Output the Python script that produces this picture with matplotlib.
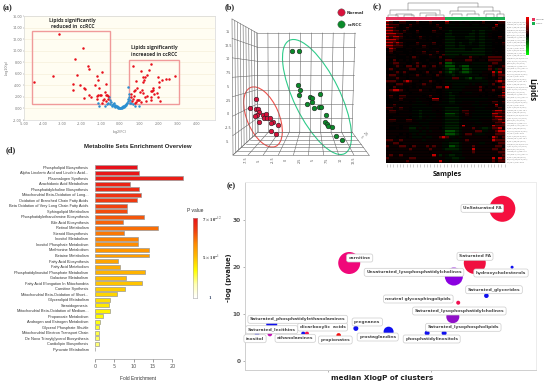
"""Five panel lipidomics figure: volcano, 3D PCA, heatmap, enrichment, clusters."""
import matplotlib

matplotlib.use("Agg")
import matplotlib.pyplot as plt
import numpy as np
from matplotlib.colors import LinearSegmentedColormap
from matplotlib.patches import Ellipse, Rectangle

W, H = 550, 385

# (a) volcano
red_x = [-3.16, -1.93, -2.34, -2.24, -3.47, -4.46, -2.47, -2.1, -2.47, -1.88, -1.84, -1.68,
         -1.6, -0.95, -1.18, -1.13, -0.73, -1.3, -1.1, -1.6, -1.5, -1.86, -1.18, -1.13,
         -1.04, -0.97, -0.8, -0.73, -0.66, -0.83, -0.73, -0.61, -0.95, -1.2, -0.9, -0.6,
         0.66, 1.6, 1.53, 1.11, 1.39, 1.32, 1.18, 1.25, 1.18, 0.85, 1.96, 2.05, 2.17,
         2.38, 2.57, 2.85, 2.05, 1.7, 1.6, 1.67, 1.74, 1.13, 1.04, 1.94, 2.0, 2.1, 1.6,
         0.75, 0.8, 0.9, 0.72, 0.6, 0.65, 0.85, 0.95, 1.0, 1.3, 1.4, 1.2, 0.55, 0.7, 0.88,
         0.78, 1.1, 1.35, 1.62, 1.78]
red_y = [12.97, 10.4, 8.5, 5.76, 5.6, 4.6, 4.15, 4.1, 3.17, 3.46, 3.3, 7.4,
         6.9, 6.3, 5.6, 4.9, 4.3, 4.0, 3.6, 2.4, 2.0, 1.84, 1.6, 2.3,
         2.4, 2.3, 2.77, 2.4, 2.3, 1.7, 1.3, 1.55, 0.9, 2.2, 1.4, 2.1,
         7.3, 7.7, 6.7, 6.45, 5.76, 5.36, 5.4, 5.0, 4.5, 4.8, 5.4, 4.5, 4.9,
         5.13, 5.13, 5.6, 3.75, 3.6, 3.05, 3.05, 3.15, 3.2, 2.9, 2.6, 2.0, 1.33, 1.44,
         3.0, 3.2, 3.5, 2.2, 1.9, 1.3, 1.2, 1.4, 1.5, 2.0, 2.2, 2.6, 2.5, 1.7, 1.5,
         1.0, 1.1, 1.3, 2.0, 2.5]
blue_x = [-1.15, -1.1, -0.8, -0.7, -0.6, -0.5, -0.55, -0.5, -0.45, -0.42, -0.4, -0.35, -0.3,
          -0.3, -0.28, -0.25, -0.2, -0.18, -0.15, -0.12, -0.1, -0.08, -0.05, 0, 0.02, 0.05,
          0.08, 0.1, 0.12, 0.15, 0.18, 0.2, 0.22, 0.25, 0.28, 0.3, 0.32, 0.35, 0.38, 0.4,
          0.42, 0.45, 0.46, 0.42, 0.5, 0.55, 0.7, 0.8, 0.98, 0.52]
blue_y = [0.9, 0.5, 0.4, 0.7, 1.0, 1.5, 1.9, 0.8, 1.1, 0.6, 0.4, 0.7, 0.9,
          0.5, 0.3, 0.6, 0.4, 0.2, 0.5, 0.25, 0.1, 0.3, 0.1, 0.05, 0, 0.1,
          0.2, 0.1, 0.25, 0.3, 0.4, 0.25, 0.5, 0.4, 0.6, 0.7, 0.55, 0.9, 1.0, 1.3,
          1.6, 2.0, 2.5, 3.7, 1.0, 0.9, 0.7, 0.5, 0.4, 1.5]
volcano_ticks_x = [-5, -4, -3, -2, -1, 0, 1, 2, 3, 4, 5]
volcano_ticks_y = [-2, 0, 2, 4, 6, 8, 10, 12, 14, 16]

# (b) 3D score plot, positions as projected on the page
normal_x = [255.7, 250, 256, 258.3, 259.3, 257.3, 255, 262.7, 266.3, 263.7, 267, 270.3, 273,
            271, 258.7, 278, 271, 276]
normal_y = [99.3, 107.7, 108.7, 108.7, 111.7, 115, 116, 115.3, 114.3, 118, 117.7, 117.7, 122,
            123.3, 122.3, 125, 131, 134.3]
ccrcc_x = [291.7, 298.7, 298, 300.3, 298.7, 310, 312.3, 311.7, 307.3, 320, 314.3, 318.7, 320.7,
           326, 325, 327, 328, 332.3, 335.7, 342]
ccrcc_y = [51.3, 50.7, 85, 90, 95, 96.7, 98.3, 101.7, 104, 94, 107.7, 106.7, 106.7,
           114.7, 122, 124, 126, 127, 136, 140]
score_ticks_y = ["15", "12.5", "10", "7.5", "5", "2.5", "0", "-2.5", "-5"]
score_ticks_x = ["-7.5", "-5", "-2.5", "0", "2.5", "5", "7.5", "10", "12.5"]

# (c) heatmap, hand read: . black , ; faint red/green r g dim R G bright
heat_rows = [
    "Rr..rr,..r.,,r..,.R,;,;.,;.,.r...,rr",
    "Rrrr.,.r,,...,.r..;;;,;;,.;;..,,.R..",
    "RRr,.,r,..,...,,r.,;;;;;;;;;;;;.r.,.",
    "RRrr,r,..r....r,.,;g;;;;;;g;gg;;,,.,",
    "RRRrr.,,.,.....,,.gg;;;;;gg;gg;,...,",
    "RrRRr,.,.,r,.,.,..ggg;;;ggg;gg;,..r,",
    "RRRr,,,,,.,,.,...,ggg;;;;gg;gg;;,...",
    "RRrRr,...r,,,,r..,ggg;g;;g;;gg;;.,.r",
    "RRrrr,.,,,.r,...,.ggg;gg;;;;gg;;...,",
    ".Rr...,,.,,,,.,,..gggggg;;gggg;;,..,",
    ",r.,,..,.,,r.,,r,,gggggggggggg;;.,.,",
    "..,.,,.,.,,,,r,.,rgggg;ggggggg;;,..,",
    ",,,...,.r,...,,.r.,;;,,,,r,,.,,rrrr,",
    ",.r.,.,.,,..,...,.rr,,,,rr,.,,.rrrr.",
    ".,rr,,..,r,..,,.r.GGg;;;;,;;;;;,rr,,",
    "..,r,.rr.r.r,.r.,;GGG;gGG;;;;;;r,.,r",
    ",r,.,,,rr.,,.,,..;gGGg;GGg;;;;;r,gr,",
    "..,r,r,..,.,r.,,r;gGg;gGGg;;;,,,RgR,",
    ",rr,.,.,,r,.,,.r,.;;g;;;;;;;.,,.r,rr",
    ",,,r,,.,,,,,,,..,,;;rr;;gG;gg;,.,.r,",
    "rrr,.rRr,,.,,r,..,;;;;;;;;;;;;;,,rRr",
    ".,.rr,,,.,,r,,.,.,;,;;;;;,;,,;;,r.,r",
    ",.r,,..,.,.,,,.rr,R,;;;;,,,,r,.,.,rR",
    ",rRRr,.,,,r,,.,..,;;;;;,,,,,r.,,r,,r",
    ",,,.,,,.,,,,,,,..,;g;;.,;;,,,,.,,..R",
    ",r,.rr,,,,,.,r,,.,;gg;,,,,,,.,.,.,rR",
    ".,,.r,,,,;,,..RR.,;gg;;;;;;;;;;,,,.,",
    "..,,.,,.,;;,,..,,;;gg;;,,,,;,,,,rr,r",
    ",,r,,,,,;;;;,.,,;;;;;;,,,,;;,;;,.R.,",
    "rr,,r,,.;;;;;;,,,;gggg;,,,,;;;,,,,r,",
    ".rr,,,,.;;g;;;,.,;gggg;rr,,;;;;;rRRr",
    ",,,.,,,,;;g;;;;,,;GGGg;,r,;;;;;;RRrr",
    ",.,,,,,.;;g;,;;,,;gggg;,,,;;;;;;rRRr",
    ",rr,,,rr,;;,;;,,,;gggg;,,;;;,,,,rrRr",
    ",,.,,,,,,,;;;,,,,;gggg;,,,,;;,,,,rrR",
    ",,,,.,,;;;,;;,,,,;gggg,R,,;,,,,,Rrrr",
    ",..,.,,gg,;,;,,,.;gggg;,,,r,;gg;rrR,",
    ",,,,,,,;;;,;,;,,,;GGGg;,,,,rr;;,,rRR",
    ",,,,.,.,;,;;,,,,,;GGGg;,rr,;;;,,,rrr",
    ",,,.,,.,;;;,;;,,rRr;;,;,,,,,,,,.Rr,r",
    "rr,,r,,,,,,;,,,,,,;,;;,,r,,,,,,,Rrrr",
    ",,rr.,,,,,,,,,,,,;;ggg;,,,,,;;,,.,rr",
    "r,,,rr,.r,,,r,r,,;;GGg;,,,r,,,,,,rr,",
    ",,,,,,,r,,,,,r,,,;gggg;,,,R,,,,,rr,r",
    ",,,,,,,,,,,,,.,,,,,,;;;,,,r,,,,,,,rr",
    ",r,,r,,,,,,,,,R,g,;gg;;,,,,,,,,,,,,r",
    "r,,,,,,rr,,,,,,,,,;;gg;;,,,,,,,,R,Rr",
    ",,,,,,r,,,,,,,,,R,;,;;,,,,,,,,,,r.rr",
]
heat_levels = {".": 0, ",": 0.04, ";": -0.04, "r": 0.3, "R": 0.75, "g": -0.13, "G": -0.3}
lipid_names = ["PC(34:1)/PC(16:0/18:1)", "LysoPC(18:2)/LPC 18:2", "PE(36:2)/PE(18:1/18:1)",
               "SM(d18:1/16:0)/SM 34:1", "TG(52:3)/TG(16:0/18:1)", "PI(38:4)/PI(18:0/20:4)",
               "LysoPE(20:4)/LPE 20:4", "Cer(d18:1/24:0)/Cer 42", "PS(36:1)/PS(18:0/18:1)",
               "DG(34:2)/DG(16:0/18:2)", "FA(18:1)/Oleic acid"]

# (d) enrichment
pathways = ["Phospholipid Biosynthesis", "Alpha Linolenic Acid and Linoleic Acid...",
            "Plasmalogen Synthesis", "Arachidonic Acid Metabolism",
            "Phosphatidylcholine Biosynthesis", "Mitochondrial Beta-Oxidation of Long...",
            "Oxidation of Branched Chain Fatty Acids", "Beta Oxidation of Very Long Chain Fatty Acids",
            "Sphingolipid Metabolism", "Phosphatidylethanolamine Biosynthesis",
            "Bile Acid Biosynthesis", "Retinol Metabolism", "Steroid Biosynthesis",
            "Inositol Metabolism", "Inositol Phosphate Metabolism", "Methionine Metabolism",
            "Betaine Metabolism", "Fatty Acid Biosynthesis", "Fatty Acid Metabolism",
            "Phosphatidylinositol Phosphate Metabolism", "Galactose Metabolism",
            "Fatty Acid Elongation In Mitochondria", "Carnitine Synthesis",
            "Mitochondrial Beta-Oxidation of Short...", "Glycerolipid Metabolism",
            "Steroidogenesis", "Mitochondrial Beta-Oxidation of Medium...",
            "Propanoate Metabolism", "Androgen and Estrogen Metabolism",
            "Glycerol Phosphate Shuttle", "Mitochondrial Electron Transport Chain",
            "De Novo Triacylglycerol Biosynthesis", "Cardiolipin Biosynthesis",
            "Pyruvate Metabolism"]
fold_enrichment = [10.9, 11.5, 22.7, 9.1, 11.5, 11.9, 10.8, 8.3, 8.3, 12.7, 7.4, 16.2, 7.6, 11.1,
                   11.1, 14.0, 14.0, 5.9, 6.4, 13.0, 8.0, 12.1, 7.7, 5.8, 3.9, 3.7, 4.0, 2.2, 1.4,
                   1.2, 1.2, 1.2, 1.2, 0.1]
fold_ticks = [0, 5, 10, 15, 20]

# (e) clusters
cluster_x = [8.42, 1.03, 7.09, 6.08, 8.89, 7.65, 6.29, 6.03, 4.79, 5.61, 2.93, 1.35, 0.52, -1.19,
             -1.01, -2.71, -2.8, -3.42]
cluster_y = [32.5, 20.9, 20.9, 18.0, 20.0, 13.9, 12.4, 9.4, 5.9, 5.9, 6.2, 6.9, 5.4, 5.8, 5.8, 7.8,
             5.7, 5.7]
cluster_radius = [13, 11, 11, 9, 1.5, 2.3, 2, 6.5, 2.5, 2.5, 5, 2.5, 2.3, 2, 2, 5.5, 2.3, 2.3]
cluster_color = ["#f5103f", "#f0087a", "#f01040", "#8a00e0", "#1010f0", "#1010f0", "#f01050",
                 "#9010c8", "#1010f0", "#1010f0", "#1010f0", "#1010f0", "#f51010", "#1010f0",
                 "#f01050", "#1010f0", "#c010b0", "#1010f0"]
cluster_names = ["UnSaturated FA", "carnitine", "Saturated FA",
                 "Unsaturated_lysophosphatidylcholines", "hydroxycholesterols",
                 "Saturated_glycerides", "neutral glycosphingolipids",
                 "Saturated_lysophosphatidylcholines", "Saturated_lysophospholipids",
                 "phosphatidylinositols", "prostaglandins", "pregnanes", "propionates",
                 "dicarboxylic  acids", "Saturated_phosphatidylethanolamines",
                 "Saturated_lecithins", "inositol", "ethanolamines"]
name_px = [482.3, 359.7, 475, 414, 501, 494, 418.3, 459.3, 463.3, 431.7, 377.7, 367.3, 335.3, 322.7,
           297.7, 271.7, 255, 295.3]
name_py = [208.3, 258, 256.3, 272.3, 273, 289.7, 299, 311, 327.3, 339, 337, 322, 340, 327, 319.3,
           329.7, 338.7, 338.3]


def add_axes(left, top, right, bottom, **kw):
    """Axes placed by its pixel box on the 550x385 page."""
    return fig.add_axes([left / W, 1 - bottom / H, (right - left) / W, (bottom - top) / H], **kw)


def page_text(x, y, s, **kw):
    kw.setdefault("ha", "center")
    kw.setdefault("va", "center")
    return fig.text(x / W, 1 - y / H, s, **kw)


def panel_label(x, y, s):
    page_text(x, y, s, fontsize=6, fontweight="bold", family="Liberation Serif", color="#222222")


def lattice(ax, p00, p10, p01, p11, nu, nv):
    """Grid on a flat four cornered wall of the 3D box."""
    p00, p10, p01, p11 = map(np.array, (p00, p10, p01, p11))
    for u in np.linspace(0, 1, nu + 1):
        a, b = p00 + (p10 - p00) * u, p01 + (p11 - p01) * u
        ax.plot([a[0], b[0]], [a[1], b[1]], color="#6a6a6a", lw=0.4)
    for v in np.linspace(0, 1, nv + 1):
        a, b = p00 + (p01 - p00) * v, p10 + (p11 - p10) * v
        ax.plot([a[0], b[0]], [a[1], b[1]], color="#6a6a6a", lw=0.4)


fig = plt.figure(figsize=(W / 100, H / 100), dpi=100)
fig.patch.set_facecolor("white")

# ---- (a)
ax = add_axes(24, 16, 215, 120, facecolor="#fffdf2")
ax.set_xlim(-5, 4.95)
ax.set_ylim(-2, 16)
ax.set_xticks(volcano_ticks_x[:-1])
ax.set_yticks(volcano_ticks_y)
ax.set_xticklabels([f"{v:.2f}" for v in volcano_ticks_x[:-1]])
ax.set_yticklabels([f"{v:.2f}" for v in volcano_ticks_y])
ax.tick_params(labelsize=2.4, length=0.8, width=0.3, pad=0.8, colors="#777777")
ax.grid(axis="y", color="#f3ecd4", lw=0.4)
ax.set_axisbelow(True)
for s in ax.spines.values():
    s.set_color("#d8d8d8")
    s.set_linewidth(0.5)
ax.add_patch(Rectangle((-4.6, 0.8), 4.08, 12.63, fill=False, ec="#f09a9a", lw=1))
ax.add_patch(Rectangle((0.49, 0.8), 2.58, 7.67, fill=False, ec="#f09a9a", lw=1))
ax.scatter(blue_x, blue_y, s=3.2, color="#2a8fd0", lw=0)
ax.scatter(red_x, red_y, s=3.2, color="#e8101c", lw=0)
page_text(120, 132, "log2(FC)", fontsize=2.4, color="#777777")
page_text(6.5, 67, "-log10(p)", fontsize=2.4, color="#777777", rotation=90)
panel_label(7.3, 8.3, "(a)")
page_text(72.7, 23.3, "Lipids significantly\nreduced in  ccRCC", fontsize=3.6, fontweight="bold",
          family="Open Sans", color="#303030", linespacing=1.25)
page_text(154, 51, "Lipids significantly\nincreased in ccRCC", fontsize=3.6, fontweight="bold",
          family="Open Sans", color="#303030", linespacing=1.25)

# ---- (b) and the loose line work, on a page sized axes
canvas = add_axes(0, 0, W, H, facecolor="none")
canvas.set_xlim(0, W)
canvas.set_ylim(H, 0)
canvas.axis("off")
canvas.set_zorder(5)
lattice(canvas, (232, 19), (257, 33), (233, 155), (258, 132), 9, 7)
lattice(canvas, (257, 33), (355, 33), (258, 132), (352, 132), 9, 7)
lattice(canvas, (258, 132), (352, 132), (233, 155), (369, 155), 9, 6)
canvas.add_patch(Ellipse((263, 117), 64, 32, angle=67, fill=False, ec="#f0504a", lw=0.8))
canvas.add_patch(Ellipse((317, 97), 126, 46, angle=64, fill=False, ec="#2ecc8a", lw=0.8))
canvas.scatter(normal_x, normal_y, s=11, color="#d8123c", ec="#222222", lw=0.4, zorder=3)
canvas.scatter(ccrcc_x, ccrcc_y, s=11, color="#0a8a2a", ec="#222222", lw=0.4, zorder=3)
canvas.scatter([340.7], [12], s=28, color="#d8123c", ec="#555555", lw=0.3, zorder=3)
canvas.scatter([340.7], [24], s=28, color="#0a8a2a", ec="#555555", lw=0.3, zorder=3)
page_text(355, 12.5, "Normal", fontsize=3.1, fontweight="bold", color="#333333")
page_text(355, 24.5, "ccRCC", fontsize=3.1, fontweight="bold", color="#333333")
panel_label(229.3, 6.7, "(b)")
for label, py in zip(score_ticks_y, np.linspace(32, 141.7, len(score_ticks_y))):
    page_text(228, py, label, fontsize=2.4, color="#555555")
for label, px in zip(score_ticks_x, np.linspace(245.7, 353.7, len(score_ticks_x))):
    page_text(px, 160, label, fontsize=2.4, color="#555555", rotation=90)
page_text(363, 136, "2.5\n5", fontsize=2.2, color="#555555", rotation=-50)

# ---- (c)
heat = np.array([[heat_levels[c] for c in row.ljust(36, ",")[:36]] for row in heat_rows])
# the reference rows are thinner than what could be read, so every read row becomes a
# bright line with a darker one under it
heat = np.repeat(heat, 2, axis=0)
heat[1::2] *= 0.35
rgk = LinearSegmentedColormap.from_list("rgk", ["#00ff00", "black", "#ff0000"])
ax = add_axes(386, 21, 505, 163)
ax.imshow(heat, cmap=rgk, vmin=-1, vmax=1, aspect="auto", interpolation="nearest")
ax.axis("off")
canvas.add_patch(Rectangle((386, 17.3), 59, 3, color="#e8325c", lw=0))
canvas.add_patch(Rectangle((445, 17.3), 60, 3, color="#19b050", lw=0))
canvas.add_patch(Rectangle((505, 21), 1.4, 142, color="#bbbbbb", lw=0))
for x0, x1, top, yl, yr in [(407.7, 478.3, 3.3, 10, 6.7), (390, 440, 10, 13.5, 13.5),
                            (458, 493, 7, 11, 11), (450, 475, 11, 14, 14), (484, 500, 11, 14, 14),
                            (396, 412, 13.5, 16, 16), (420, 436, 13, 16, 16), (452, 462, 14, 16, 16),
                            (467, 479, 14, 16, 16), (388, 398, 14.5, 17, 17), (404, 414, 14.5, 17, 17),
                            (426, 444, 14.5, 17, 17), (486, 494, 14, 17, 17), (497, 504, 14, 17, 17)]:
    canvas.plot([x0, x0, x1, x1], [yl, top, top, yr], color="#666666", lw=0.35)
canvas.vlines(np.linspace(386.5, 504.5, 36), 163.5, 166.5, color="#bbbbbb", lw=0.5)
for i, py in enumerate(np.linspace(22, 162, 55)):
    page_text(507, py, lipid_names[i % len(lipid_names)], ha="left", fontsize=1.3, color="#808080")
ax = add_axes(526, 17, 529, 55)
ax.imshow(np.linspace(1, -1, 64)[:, None], cmap=rgk, aspect="auto", vmin=-1, vmax=1)
ax.axis("off")
canvas.add_patch(Rectangle((532, 18), 2.5, 3, color="#e8325c", lw=0))
canvas.add_patch(Rectangle((532, 22), 2.5, 3, color="#19b050", lw=0))
page_text(536, 19.5, "Normal", ha="left", fontsize=1.7, color="#666666")
page_text(536, 23.5, "ccRCC", ha="left", fontsize=1.7, color="#666666")
panel_label(376.7, 7.3, "(c)")
page_text(532, 90, "Lipids", fontsize=5.7, fontweight="bold", family="Open Sans", rotation=-90, color="#111111")
page_text(447, 174.7, "Samples", fontsize=5, fontweight="bold", family="Open Sans", color="#111111")

# ---- (d)
enrich = LinearSegmentedColormap.from_list(
    "enrich", ["#e8101a", "#f04010", "#ff8c00", "#ffc000", "#ffff00", "#ffffb0", "#ffffff"])
rank = np.arange(len(pathways)) / (len(pathways) - 1) * 0.8
ax = add_axes(94.7, 164.5, 172.3, 352)
ax.barh(range(len(pathways)), fold_enrichment, height=0.72, color=enrich(rank), ec="#999999", lw=0.5)
ax.set_ylim(len(pathways) - 0.5, -0.5)
ax.set_xlim(0, 20)
ax.set_yticks(range(len(pathways)))
ax.set_yticklabels(pathways, family="Liberation Sans", fontsize=2.75, color="#333333")
ax.tick_params(axis="y", length=0, pad=4.5)
ax.set_xticks(fold_ticks)
ax.tick_params(axis="x", labelsize=3.5, length=2, width=0.4, pad=2.2, colors="#555555")
for name in ["top", "right", "left"]:
    ax.spines[name].set_visible(False)
ax.spines["bottom"].set_position(("outward", 4.8))
ax.spines["bottom"].set_linewidth(0.4)
ax.spines["bottom"].set_color("#888888")
for bar in ax.patches:
    bar.set_clip_on(False)
page_text(138, 147, "Metabolite Sets Enrichment Overview", fontsize=4.3, fontweight="bold",
          family="Liberation Sans", color="#222222")
page_text(138, 378, "Fold Enrichment", fontsize=3.5, family="Liberation Sans", color="#333333")
page_text(195, 210.7, "P value", fontsize=3.5, family="Liberation Sans", color="#333333")
panel_label(10.3, 150.3, "(d)")
ax = add_axes(192.5, 217.7, 197, 298)
ax.imshow(np.linspace(0, 1, 128)[:, None], cmap=enrich, aspect="auto")
ax.set_xticks([])
ax.set_yticks([])
for s in ax.spines.values():
    s.set_color("#aaaaaa")
    s.set_linewidth(0.4)
page_text(202, 219.5, r"7 $\times$ 10$^{-12}$", ha="left", fontsize=3.4, fontweight="bold",
          family="Liberation Serif", color="#333333", math_fontfamily="stix")
page_text(202, 257.5, r"5 $\times$ 10$^{-1}$", ha="left", fontsize=3.4, fontweight="bold",
          family="Liberation Serif", color="#333333", math_fontfamily="stix")
page_text(210, 298, "1", fontsize=3.6, fontweight="bold", family="Liberation Serif", color="#334466")

# ---- (e)
ax = add_axes(245, 181.7, 535.7, 370)
ax.set_xlim(-4, 10.03)
ax.set_ylim(-2, 38.3)
ax.scatter(cluster_x, cluster_y, s=(np.array(cluster_radius) * 2 * 0.72) ** 2, c=cluster_color, lw=0)
ax.set_xticks([0, 5])
ax.set_xticklabels([])
ax.set_yticks([0, 10, 20, 30])
ax.set_yticklabels(["0", "10", "20", "30"], fontweight="bold", fontsize=4.2, color="#555555")
ax.tick_params(length=1.2, width=0.4, pad=2, color="#777777")
for name in ["top", "right"]:
    ax.spines[name].set_color("#ececec")
for name in ["left", "bottom"]:
    ax.spines[name].set_color("#cfcfcf")
for s in ax.spines.values():
    s.set_linewidth(0.7)
for name, px, py in zip(cluster_names, name_px, name_py):
    page_text(px, py, name, fontsize=3.2, fontweight="bold", color="#4a4a4a",
              bbox=dict(boxstyle="round,pad=0.45", fc="white", ec="#cccccc", lw=0.5))
panel_label(231, 185.7, "(e)")
page_text(229, 278, "-log (pvalue)", fontsize=4.9, fontweight="bold", rotation=90, color="#222222")
page_text(382.3, 377.7, "median XlogP of clusters", fontsize=5.2, fontweight="bold", color="#222222")

fig.savefig("out.png", dpi=100, facecolor="white")
plt.close(fig)
